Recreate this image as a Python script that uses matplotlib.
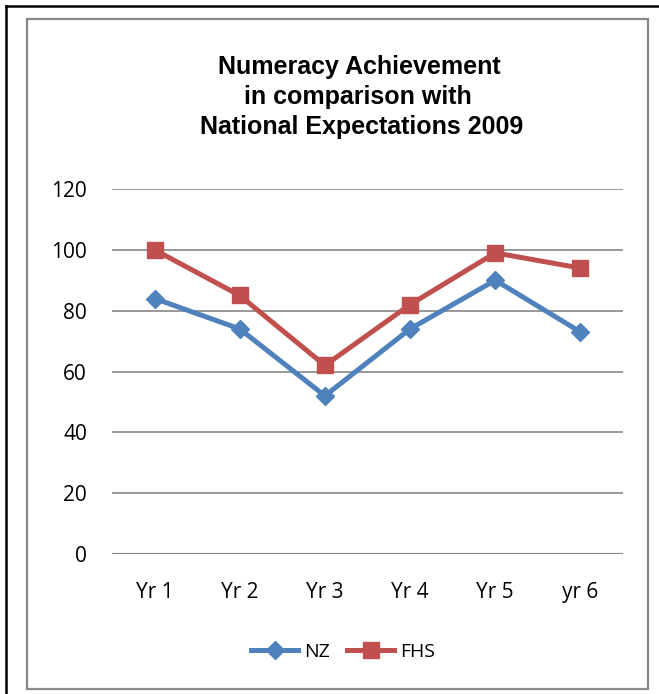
import matplotlib
matplotlib.use("Agg")
import matplotlib.pyplot as plt
from matplotlib.lines import Line2D
from matplotlib.patches import Rectangle

categories = ["Yr 1", "Yr 2", "Yr 3", "Yr 4", "Yr 5", "yr 6"]
nz = [84, 74, 52, 74, 90, 73]
fhs = [100, 85, 62, 82, 99, 94]
yticks = [0, 20, 40, 60, 80, 100, 120]

W, H = 659, 694
fig = plt.figure(figsize=(W / 100, H / 100), dpi=100)

def fx(px):
    return px / W

def fy(py):
    return 1 - py / H

# outer black border (top and left visible)
fig.add_artist(Line2D([fx(6), 1.0], [fy(6), fy(6)], color="black", lw=1.8, transform=fig.transFigure))
fig.add_artist(Line2D([fx(6), fx(6)], [fy(6), 0.0], color="black", lw=1.8, transform=fig.transFigure))
# inner gray chart border
fig.add_artist(Rectangle((fx(27), fy(689)), fx(648) - fx(27), fy(19) - fy(689),
                         fill=False, edgecolor="#888888", lw=1.6, transform=fig.transFigure))

ax = fig.add_axes([fx(112), fy(554), fx(623) - fx(112), fy(189) - fy(554)])
x = [i + 0.5 for i in range(len(categories))]
blue = "#4F81BD"
red = "#C0504D"
ax.plot(x, nz, color=blue, lw=3.6, marker="D", ms=9, mfc=blue, mec=blue, label="NZ", zorder=3)
ax.plot(x, fhs, color=red, lw=3.6, marker="s", ms=12, mfc=red, mec=red, label="FHS", zorder=3)

ax.set_xlim(0, 6)
ax.set_ylim(0, 120)
ax.set_yticks(yticks)
ax.set_xticks(x)
ax.set_xticklabels(categories)
for s in ax.spines.values():
    s.set_visible(False)
ax.grid(axis="y", color="#868686", lw=1.2)
ax.set_axisbelow(True)
ax.tick_params(length=0, labelsize=15, pad=18)
ax.tick_params(axis="x", pad=20)
for lab in ax.get_xticklabels() + ax.get_yticklabels():
    lab.set_family("Open Sans")
    lab.set_color("#000000")
ax.axhline(0, color="#868686", lw=1.5, zorder=1)

fig.text(fx(359), fy(67), "Numeracy Achievement", ha="center", va="center",
         fontsize=18, fontweight="bold", family="Liberation Sans")
fig.text(fx(358), fy(97), "in comparison with", ha="center", va="center",
         fontsize=18, fontweight="bold", family="Liberation Sans")
fig.text(fx(362), fy(127), "National Expectations 2009", ha="center", va="center",
         fontsize=18, fontweight="bold", family="Liberation Sans")

leg = fig.legend(loc="center", bbox_to_anchor=(fx(343), fy(652)), ncol=2, frameon=False,
                 prop={"family": "Open Sans", "size": 14}, handlelength=2.4,
                 columnspacing=0.9, handletextpad=0.3)

fig.savefig("out.png", dpi=100)
